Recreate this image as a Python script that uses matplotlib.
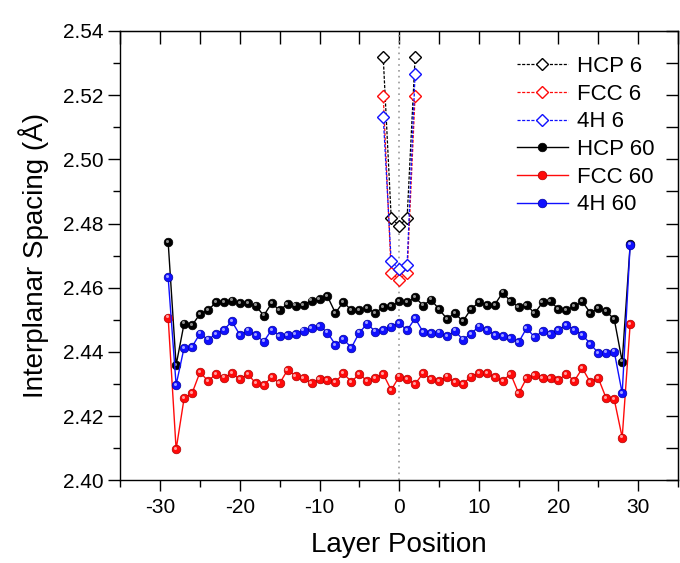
import numpy as np
import matplotlib.pyplot as plt
from matplotlib.transforms import offset_copy

plt.rcParams['font.family'] = ['Liberation Sans', 'DejaVu Sans']
plt.rcParams['axes.unicode_minus'] = False

# 6-layer slabs
x6 = [-2, -1, 0, 1, 2]
hcp6 = [2.5318, 2.4818, 2.4792, 2.4818, 2.5318]
fcc6 = [2.5198, 2.4646, 2.4625, 2.4646, 2.5198]
h4_6 = [2.5133, 2.4682, 2.4659, 2.4672, 2.5266]

# 60-layer slabs
x60 = np.arange(-29, 30)
hcp60 = [2.4742, 2.4359, 2.4488, 2.4483, 2.4518, 2.4530, 2.4554, 2.4554, 2.4560, 2.4552,
         2.4552, 2.4544, 2.4513, 2.4552, 2.4529, 2.4550, 2.4544, 2.4546, 2.4560, 2.4565,
         2.4573, 2.4521, 2.4556, 2.4529, 2.4531, 2.4536, 2.4521, 2.4540, 2.4542, 2.4557,
         2.4554, 2.4571, 2.4544, 2.4563, 2.4533, 2.4503, 2.4521, 2.4495, 2.4533, 2.4554,
         2.4547, 2.4547, 2.4585, 2.4557, 2.4540, 2.4547, 2.4520, 2.4554, 2.4557, 2.4533,
         2.4531, 2.4542, 2.4557, 2.4521, 2.4536, 2.4526, 2.4502, 2.4370, 2.4735]
fcc60 = [2.4507, 2.4096, 2.4255, 2.4271, 2.4337, 2.4309, 2.4331, 2.4320, 2.4333, 2.4315,
         2.4331, 2.4302, 2.4297, 2.4321, 2.4302, 2.4344, 2.4325, 2.4318, 2.4302, 2.4315,
         2.4313, 2.4306, 2.4333, 2.4307, 2.4331, 2.4309, 2.4318, 2.4331, 2.4281, 2.4323,
         2.4315, 2.4300, 2.4333, 2.4315, 2.4310, 2.4323, 2.4305, 2.4299, 2.4323, 2.4333,
         2.4333, 2.4321, 2.4310, 2.4331, 2.4271, 2.4318, 2.4328, 2.4318, 2.4318, 2.4313,
         2.4330, 2.4310, 2.4349, 2.4305, 2.4318, 2.4255, 2.4252, 2.4133, 2.4487]
h4_60 = [2.4632, 2.4297, 2.4413, 2.4416, 2.4457, 2.4438, 2.4456, 2.4469, 2.4495, 2.4453,
         2.4466, 2.4453, 2.4432, 2.4469, 2.4450, 2.4453, 2.4456, 2.4466, 2.4473, 2.4481,
         2.4460, 2.4422, 2.4440, 2.4413, 2.4460, 2.4488, 2.4463, 2.4469, 2.4479, 2.4490,
         2.4467, 2.4505, 2.4462, 2.4458, 2.4460, 2.4448, 2.4466, 2.4438, 2.4456, 2.4479,
         2.4469, 2.4453, 2.4450, 2.4443, 2.4430, 2.4474, 2.4446, 2.4464, 2.4455, 2.4469,
         2.4484, 2.4469, 2.4453, 2.4425, 2.4396, 2.4398, 2.4401, 2.4271, 2.4734]

fig = plt.figure(figsize=(6.8, 5.63), dpi=100)
ax = fig.add_axes([0.177, 0.147, 0.82, 0.798])

ax.axvline(0, color='#999999', ls=(0, (1, 2.5)), lw=1.2, zorder=1)

# balls: base marker plus a small offset highlight
shine = offset_copy(ax.transData, fig=fig, x=-1.2, y=1.2, units='dots')
series60 = [(hcp60, 'black', '#000000', '#909090', 'HCP 60'),
            (fcc60, '#ff0a0a', '#b00000', '#ffa0a0', 'FCC 60'),
            (h4_60, '#1010ff', '#0000a0', '#a0a0ff', '4H 60')]
for i, (y, c, ec, hl, lab) in enumerate(series60):
    ax.plot(x60, y, '-o', color=c, lw=1.0, ms=6.2, mfc=c, mec=ec, mew=0.5,
            label=lab, zorder=3 + 0.1 * i)
    ax.plot(x60, y, 'o', ls='none', ms=2.2, mfc=hl, mec='none',
            transform=shine, zorder=3.05 + 0.1 * i)

for y, c, lab in [(hcp6, 'black', 'HCP 6'),
                  (fcc6, '#ff0a0a', 'FCC 6'),
                  (h4_6, '#1010ff', '4H 6')]:
    ax.plot(x6, y, ls=(0, (2.5, 1.2)), marker='D', color=c, lw=0.9, ms=6,
            mfc='white', mec=c, mew=1.0, label=lab, zorder=4)

ax.set_xlim(-35, 35)
ax.set_ylim(2.40, 2.54)
ax.set_xticks([-30, -20, -10, 0, 10, 20, 30])
ax.set_xticks(np.arange(-35, 36, 5), minor=True)
ax.set_yticks(np.arange(2.40, 2.541, 0.02))
ax.set_yticks(np.arange(2.40, 2.541, 0.01), minor=True)
ax.yaxis.set_major_formatter(plt.FormatStrFormatter('%.2f'))
ax.tick_params(which='major', direction='out', length=9, width=1, labelsize=15)
ax.tick_params(which='minor', direction='out', length=5, width=1)
ax.tick_params(axis='x', which='major', length=8, pad=4.5)
ax.tick_params(axis='y', which='major', pad=3)

top = ax.secondary_xaxis('top')
top.set_xticks(np.arange(-35, 36, 5))
top.tick_params(direction='in', length=9, width=1, labeltop=False)
right = ax.secondary_yaxis('right')
right.set_yticks(np.arange(2.40, 2.541, 0.01))
right.tick_params(direction='in', length=9, width=1, labelright=False)

for s in ax.spines.values():
    s.set_linewidth(1.0)

ax.set_xlabel('Layer Position', fontsize=20, labelpad=11)
ax.set_ylabel('Interplanar Spacing (Å)', fontsize=20, labelpad=10)

h, l = ax.get_legend_handles_labels()
order = [3, 4, 5, 0, 1, 2]
ax.legend([h[i] for i in order], [l[i] for i in order], loc='upper left',
          bbox_to_anchor=(0.711, 0.944), frameon=False, fontsize=16,
          handlelength=2.3, handletextpad=0.39, labelspacing=0.3, numpoints=1,
          borderpad=0, borderaxespad=0)

fig.savefig('out.png', dpi=100)
